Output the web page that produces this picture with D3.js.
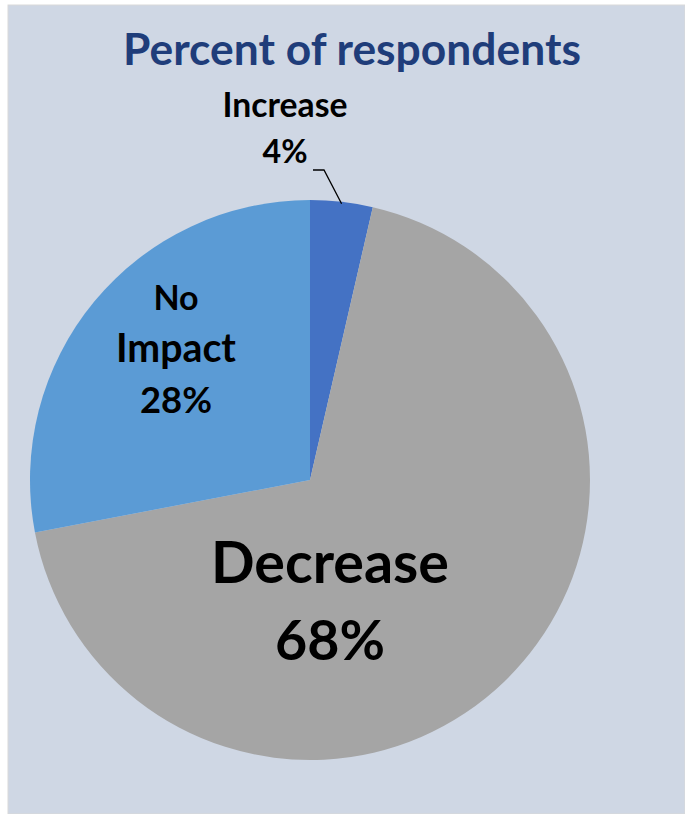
<!DOCTYPE html>
<html><head><meta charset="utf-8">
<script src="https://cdn.jsdelivr.net/npm/d3@7"></script>
<style>html,body{margin:0;padding:0;background:#fff;}svg{display:block;}</style>
</head><body>
<script>
const categories = ["Increase", "Decrease", "No Impact"];
const values = [3.6, 68.4, 28.0];
const colors = ["#4472c4", "#a5a5a5", "#5b9bd5"];
const title = "Percent of respondents";

const W = 685, H = 814;
const svg = d3.select("body").append("svg").attr("width", W).attr("height", H);
svg.append("rect").attr("x", 8).attr("y", 5).attr("width", W - 8).attr("height", H - 5)
  .attr("fill", "#cfd7e4").attr("stroke", "#d9d9d9").attr("stroke-width", 1);

const font = "Lato, 'Open Sans', sans-serif";
function fitText(sel, width) {
  const w = sel.node().getComputedTextLength();
  const fs = parseFloat(sel.attr("font-size"));
  sel.attr("font-size", fs * width / w);
}

const tt = svg.append("text").attr("x", 352).attr("y", 65).attr("text-anchor", "middle")
  .attr("font-family", font).attr("font-weight", 700).attr("font-size", 40)
  .attr("fill", "#1f3d7a").text(title);
fitText(tt, 458);

const cx = 310, cy = 480, r = 280;
const pie = d3.pie().sort(null).value(d => d)(values);
const arc = d3.arc().innerRadius(0).outerRadius(r);
const g = svg.append("g").attr("transform", `translate(${cx},${cy})`);
g.selectAll("path").data(pie).join("path").attr("d", arc).attr("fill", (d, i) => colors[i]);

const pct = v => Math.round(v) + "%";

// label layouts: [lines, center x, baselines, font-size, target widths]
function label(lines, x, ys, fs, widths) {
  lines.forEach((t, i) => {
    const s = svg.append("text").attr("x", x).attr("y", ys[i]).attr("text-anchor", "middle")
      .attr("font-family", font).attr("font-weight", 700).attr("font-size", fs)
      .attr("fill", "#000").text(t);
    if (widths && widths[i]) fitText(s, widths[i]);
  });
}
label([categories[0], pct(values[0])], 285, [117, 163], 26, [125, 45]);
label(["No", "Impact", pct(values[2])], 176, [310, 362, 413], 34, [null, 120, 72]);
label([categories[1], pct(values[1])], 330, [583, 660], 52, [238, 110]);

// leader line for Increase
const mid = (pie[0].startAngle + pie[0].endAngle) / 2;
const px = cx + r * Math.sin(mid), py = cy - r * Math.cos(mid);
svg.append("path").attr("d", `M313,170 L324,170 L${px},${py + 2}`)
  .attr("fill", "none").attr("stroke", "#000").attr("stroke-width", 1.3);
</script>
</body></html>
